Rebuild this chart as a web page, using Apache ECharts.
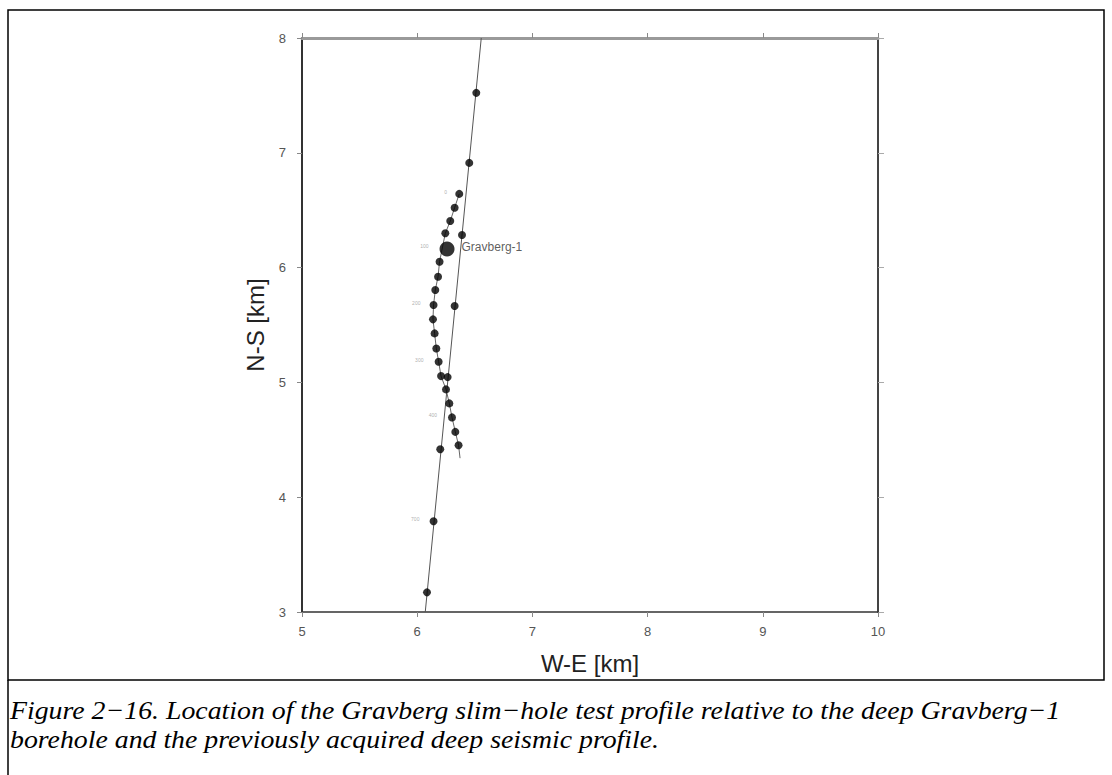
<!DOCTYPE html>
<html>
<head>
<meta charset="utf-8">
<script src="https://cdn.jsdelivr.net/npm/echarts@6/dist/echarts.min.js"></script>
<style>
  html, body { margin: 0; padding: 0; background: #fff; }
  #main { width: 1112px; height: 775px; }
</style>
</head>
<body>
<div id="main"></div>
<script>
// axis ranges and ticks
var xMin = 5, xMax = 10, yMin = 3, yMax = 8;

// seismic profile (straight line) and its shot points
var seismicLineX = [6.556, 6.070];
var seismicLineY = [8.0, 3.0];
var seismicDotX = [6.513, 6.452, 6.389, 6.325, 6.264, 6.200, 6.142, 6.085];
var seismicDotY = [7.522, 6.912, 6.284, 5.665, 5.046, 4.418, 3.790, 3.171];

// slim-hole test profile
var profileX = [6.365, 6.325, 6.287, 6.244, 6.194, 6.181, 6.157, 6.142, 6.137, 6.151, 6.166, 6.186, 6.207, 6.250, 6.279, 6.302, 6.331, 6.359];
var profileY = [6.642, 6.522, 6.406, 6.299, 6.051, 5.921, 5.805, 5.674, 5.549, 5.427, 5.296, 5.180, 5.055, 4.939, 4.817, 4.695, 4.569, 4.453];
var profileEndX = 6.372, profileEndY = 4.34;

// borehole
var boreholeX = [6.259], boreholeY = [6.162], boreholeName = ['Gravberg-1'];

// small distance labels
var tagText = ['0', '100', '200', '300', '400', '700'];
var tagX = [6.246, 6.062, 5.992, 6.018, 6.137, 5.983];
var tagY = [6.660, 6.184, 5.691, 5.194, 4.715, 3.808];

var captionLines = [
  'Figure 2\u221216. Location of the Gravberg slim\u2212hole test profile relative to the deep Gravberg\u22121',
  'borehole and the previously acquired deep seismic profile.'
];

function pairs(xs, ys) {
  return xs.map(function (x, i) { return [x, ys[i]]; });
}

var chart = echarts.init(document.getElementById('main'), null, { renderer: 'svg' });

var font = 'Liberation Sans, Helvetica, Arial, sans-serif';
var capFont = 'italic 26px "Liberation Serif", "Times New Roman", serif';

option = {
  backgroundColor: '#fff',
  animation: false,
  textStyle: { fontFamily: font },
  grid: { left: 302, top: 38, right: 234, bottom: 163 },
  xAxis: [
    {
      type: 'value', min: xMin, max: xMax, interval: 1, position: 'bottom',
      name: 'W-E [km]', nameLocation: 'middle', nameGap: 39,
      nameTextStyle: { fontSize: 24, color: '#222', fontFamily: font },
      axisLine: { onZero: false, lineStyle: { color: '#333', width: 1.5 } },
      axisTick: { inside: false, length: 5, lineStyle: { color: '#888' } },
      axisLabel: { fontSize: 13, color: '#555', margin: 13 },
      splitLine: { show: false }
    },
    {
      type: 'value', min: xMin, max: xMax, interval: 1, position: 'top',
      axisLine: { onZero: false, lineStyle: { color: '#9a9a9a', width: 3 } },
      axisTick: { inside: false, length: 5, lineStyle: { color: '#888' } },
      axisLabel: { show: false },
      splitLine: { show: false }
    }
  ],
  yAxis: [
    {
      type: 'value', min: yMin, max: yMax, interval: 1, position: 'left',
      name: 'N-S [km]', nameLocation: 'middle', nameGap: 23, nameRotate: 90,
      nameTextStyle: { fontSize: 24, color: '#222', fontFamily: font },
      axisLine: { onZero: false, lineStyle: { color: '#333', width: 2 } },
      axisTick: { inside: false, length: 5, lineStyle: { color: '#888' } },
      axisLabel: { fontSize: 13, color: '#555', margin: 16 },
      splitLine: { show: false }
    },
    {
      type: 'value', min: yMin, max: yMax, interval: 1, position: 'right',
      axisLine: { onZero: false, lineStyle: { color: '#444', width: 2 } },
      axisTick: { inside: false, length: 6, lineStyle: { color: '#aaa' } },
      axisLabel: { show: false },
      splitLine: { show: false }
    }
  ],
  graphic: [
    { type: 'rect', shape: { x: 8, y: 10, width: 1096, height: 670 },
      style: { fill: 'none', stroke: '#000', lineWidth: 1.5 }, silent: true },
    { type: 'line', shape: { x1: 8, y1: 680, x2: 8, y2: 775 },
      style: { stroke: '#000', lineWidth: 1.5 }, silent: true },
    { type: 'text', x: 10, y: 697, scaleX: 1.07,
      style: { text: captionLines[0], font: capFont, fill: '#000' } },
    { type: 'text', x: 10, y: 726, scaleX: 1.07,
      style: { text: captionLines[1], font: capFont, fill: '#000' } }
  ],
  series: [
    {
      name: 'seismic line', type: 'line', data: pairs(seismicLineX, seismicLineY),
      showSymbol: false, lineStyle: { color: '#555', width: 1 }, z: 2
    },
    {
      name: 'seismic points', type: 'scatter', data: pairs(seismicDotX, seismicDotY),
      symbolSize: 8, itemStyle: { color: '#000' }, z: 3
    },
    {
      name: 'profile line', type: 'line',
      data: pairs(profileX, profileY).concat([[profileEndX, profileEndY]]),
      showSymbol: false, lineStyle: { color: '#666', width: 1 }, z: 2
    },
    {
      name: 'profile points', type: 'scatter', data: pairs(profileX, profileY),
      symbolSize: 8, itemStyle: { color: '#000' }, z: 3
    },
    {
      name: 'borehole', type: 'scatter',
      data: boreholeX.map(function (x, i) { return { value: [x, boreholeY[i]], name: boreholeName[i] }; }),
      symbolSize: 15, itemStyle: { color: '#000' }, z: 4,
      label: {
        show: true, position: 'right', distance: 7, offset: [0, -2],
        formatter: '{b}', fontSize: 12, color: '#333', fontFamily: font
      }
    },
    {
      name: 'tags', type: 'scatter', symbolSize: 0,
      data: tagX.map(function (x, i) { return { value: [x, tagY[i]], name: tagText[i] }; }),
      label: {
        show: true, position: 'inside', formatter: '{b}',
        fontSize: 5, color: '#999', fontFamily: font
      }
    }
  ]
};

chart.setOption(option);
</script>
</body>
</html>
